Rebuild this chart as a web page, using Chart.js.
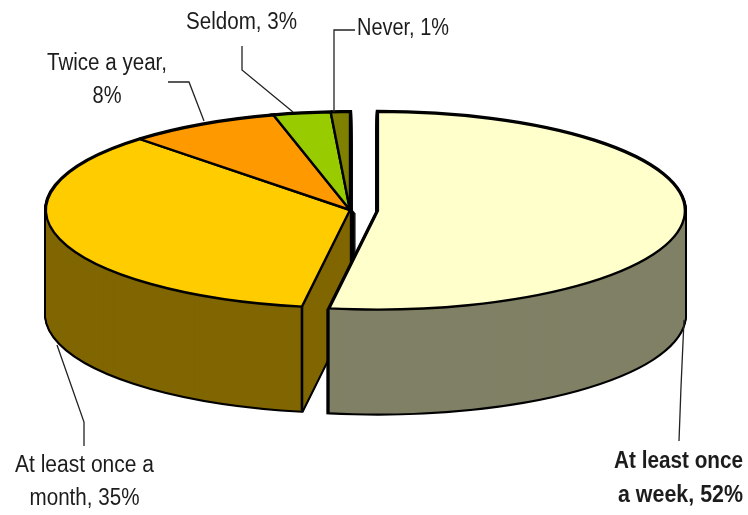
<!DOCTYPE html>
<html>
<head>
<meta charset="utf-8">
<style>html,body{margin:0;padding:0;background:#fff}canvas{display:block}</style>
<script src="https://cdn.jsdelivr.net/npm/chart.js@4"></script>
</head>
<body>
<canvas id="c" width="748" height="515"></canvas>
<script>
const categories = ['At least once a week', 'At least once a month', 'Twice a year', 'Seldom', 'Never'];
const values = [52, 35, 8, 3, 1];
const topColors = ['#FFFFCC', '#FFCC00', '#FF9900', '#99CC00', '#808000'];
const sideColors = ['#808066', '#806600', '#804C00', '#4C6600', '#404000'];
const explode = [112, 0, 0, 0, 0];

const SQUASH = 0.322, CENTER_Y = 210, DEPTH = 104, RADIUS = 304;

function flatStroke(ctx) {
  const orig = CanvasRenderingContext2D.prototype.stroke;
  ctx.stroke = function () {
    ctx.save();
    ctx.setTransform(1, 0, 0, 1, 0, 0);
    orig.call(ctx);
    ctx.restore();
  };
}
function tilt(ctx, cy, dy) {
  ctx.translate(0, CENTER_Y + dy);
  ctx.scale(1, SQUASH);
  ctx.translate(0, -cy);
}
function drawWith(arc, ctx, over) {
  const keep = arc.options;
  const o = Object.create(keep);
  Object.assign(o, over);
  arc.options = o;
  arc.draw(ctx);
  arc.options = keep;
}

const pie3d = {
  id: 'pie3d',
  afterDatasetsUpdate(chart) {
    const arcs = chart.getDatasetMeta(0).data;
    arcs.forEach((a, i) => {
      const shift = explode[i] / 4;
      const r = RADIUS + (i === 0 ? 3 : 0);
      a.outerRadius = r - shift;
      // undo the library's narrowing of an exploded slice
      const d = shift / (2 * Math.PI * r);
      a.startAngle -= d;
      a.endAngle += d;
    });
  },
  beforeDatasetDraw(chart) {
    const ctx = chart.ctx;
    const arcs = chart.getDatasetMeta(0).data;
    const cy = arcs[0].y;
    flatStroke(ctx);
    for (let i = arcs.length - 1; i >= 0; i--) {
      for (let d = DEPTH; d >= 0; d -= 1) {
        ctx.save(); tilt(ctx, cy, d);
        drawWith(arcs[i], ctx, { backgroundColor: '#000', borderColor: '#000', borderWidth: 4.2 });
        ctx.restore();
      }
      for (let d = DEPTH; d >= 0; d -= 1) {
        ctx.save(); tilt(ctx, cy, d);
        drawWith(arcs[i], ctx, { backgroundColor: sideColors[i], borderWidth: 0 });
        ctx.restore();
      }
      if (i === 1) {
        // front corner of the slice next to the gap
        const a = arcs[1];
        const px = a.x + a.outerRadius * Math.cos(a.startAngle);
        const py = CENTER_Y + a.outerRadius * Math.sin(a.startAngle) * SQUASH;
        ctx.save();
        ctx.strokeStyle = '#000';
        ctx.lineWidth = 2.6;
        ctx.beginPath();
        ctx.moveTo(px, py);
        ctx.lineTo(px, py + DEPTH);
        ctx.stroke();
        ctx.restore();
      }
    }
    ctx.save();
    tilt(ctx, cy, 0);
  },
  afterDatasetDraw(chart) {
    chart.ctx.restore();
    delete chart.ctx.stroke;
  }
};

const labelLines = [
  { t: 'Seldom, 3%', x: 241.5, y: 23, w: 111 },
  { t: 'Never, 1%', x: 403, y: 29, w: 92 },
  { t: 'Twice a year,', x: 107, y: 64, w: 120 },
  { t: '8%', x: 107, y: 97, w: 29 },
  { t: 'At least once a', x: 84.5, y: 466, w: 139 },
  { t: 'month, 35%', x: 84.5, y: 499, w: 110 },
  { t: 'At least once', x: 678.5, y: 462, w: 129, bold: true },
  { t: 'a week, 52%', x: 680.5, y: 496, w: 125, bold: true }
];
const leaders = [
  [[334, 112], [334, 30], [355, 30]],
  [[242, 46], [242, 70], [293, 112]],
  [[168, 82], [189, 82], [204, 121]],
  [[57, 345], [84, 422], [84, 446]],
  [[684, 320], [681, 387], [679, 441]]
];

const annotate = {
  id: 'annotate',
  afterDraw(chart) {
    const ctx = chart.ctx;
    ctx.save();
    ctx.strokeStyle = '#222';
    ctx.lineWidth = 1.3;
    leaders.forEach(p => {
      ctx.beginPath();
      p.forEach((q, i) => i ? ctx.lineTo(q[0], q[1]) : ctx.moveTo(q[0], q[1]));
      ctx.stroke();
    });
    ctx.fillStyle = '#1c1c1c';
    ctx.textAlign = 'center';
    ctx.textBaseline = 'middle';
    ctx.filter = 'blur(0.4px)';
    labelLines.forEach(l => {
      ctx.font = (l.bold ? 'bold ' : '') + '23px "Liberation Sans", Arial, sans-serif';
      const m = ctx.measureText(l.t).width;
      ctx.save();
      ctx.translate(l.x, l.y);
      ctx.scale(l.w / m, 1);
      ctx.fillText(l.t, 0, 0);
      ctx.restore();
    });
    ctx.restore();
  }
};

new Chart(document.getElementById('c'), {
  type: 'pie',
  data: {
    labels: categories,
    datasets: [{
      data: values,
      backgroundColor: topColors,
      borderColor: '#000',
      borderWidth: 2.4,
      borderAlign: 'center',
      borderJoinStyle: 'miter',
      offset: explode,
      radius: RADIUS,
      clip: false
    }]
  },
  options: {
    responsive: false,
    animation: false,
    layout: { padding: { left: 0, right: 48, top: 0, bottom: 0 } },
    plugins: { legend: { display: false }, tooltip: { enabled: false } }
  },
  plugins: [pie3d, annotate]
});
</script>
</body>
</html>
